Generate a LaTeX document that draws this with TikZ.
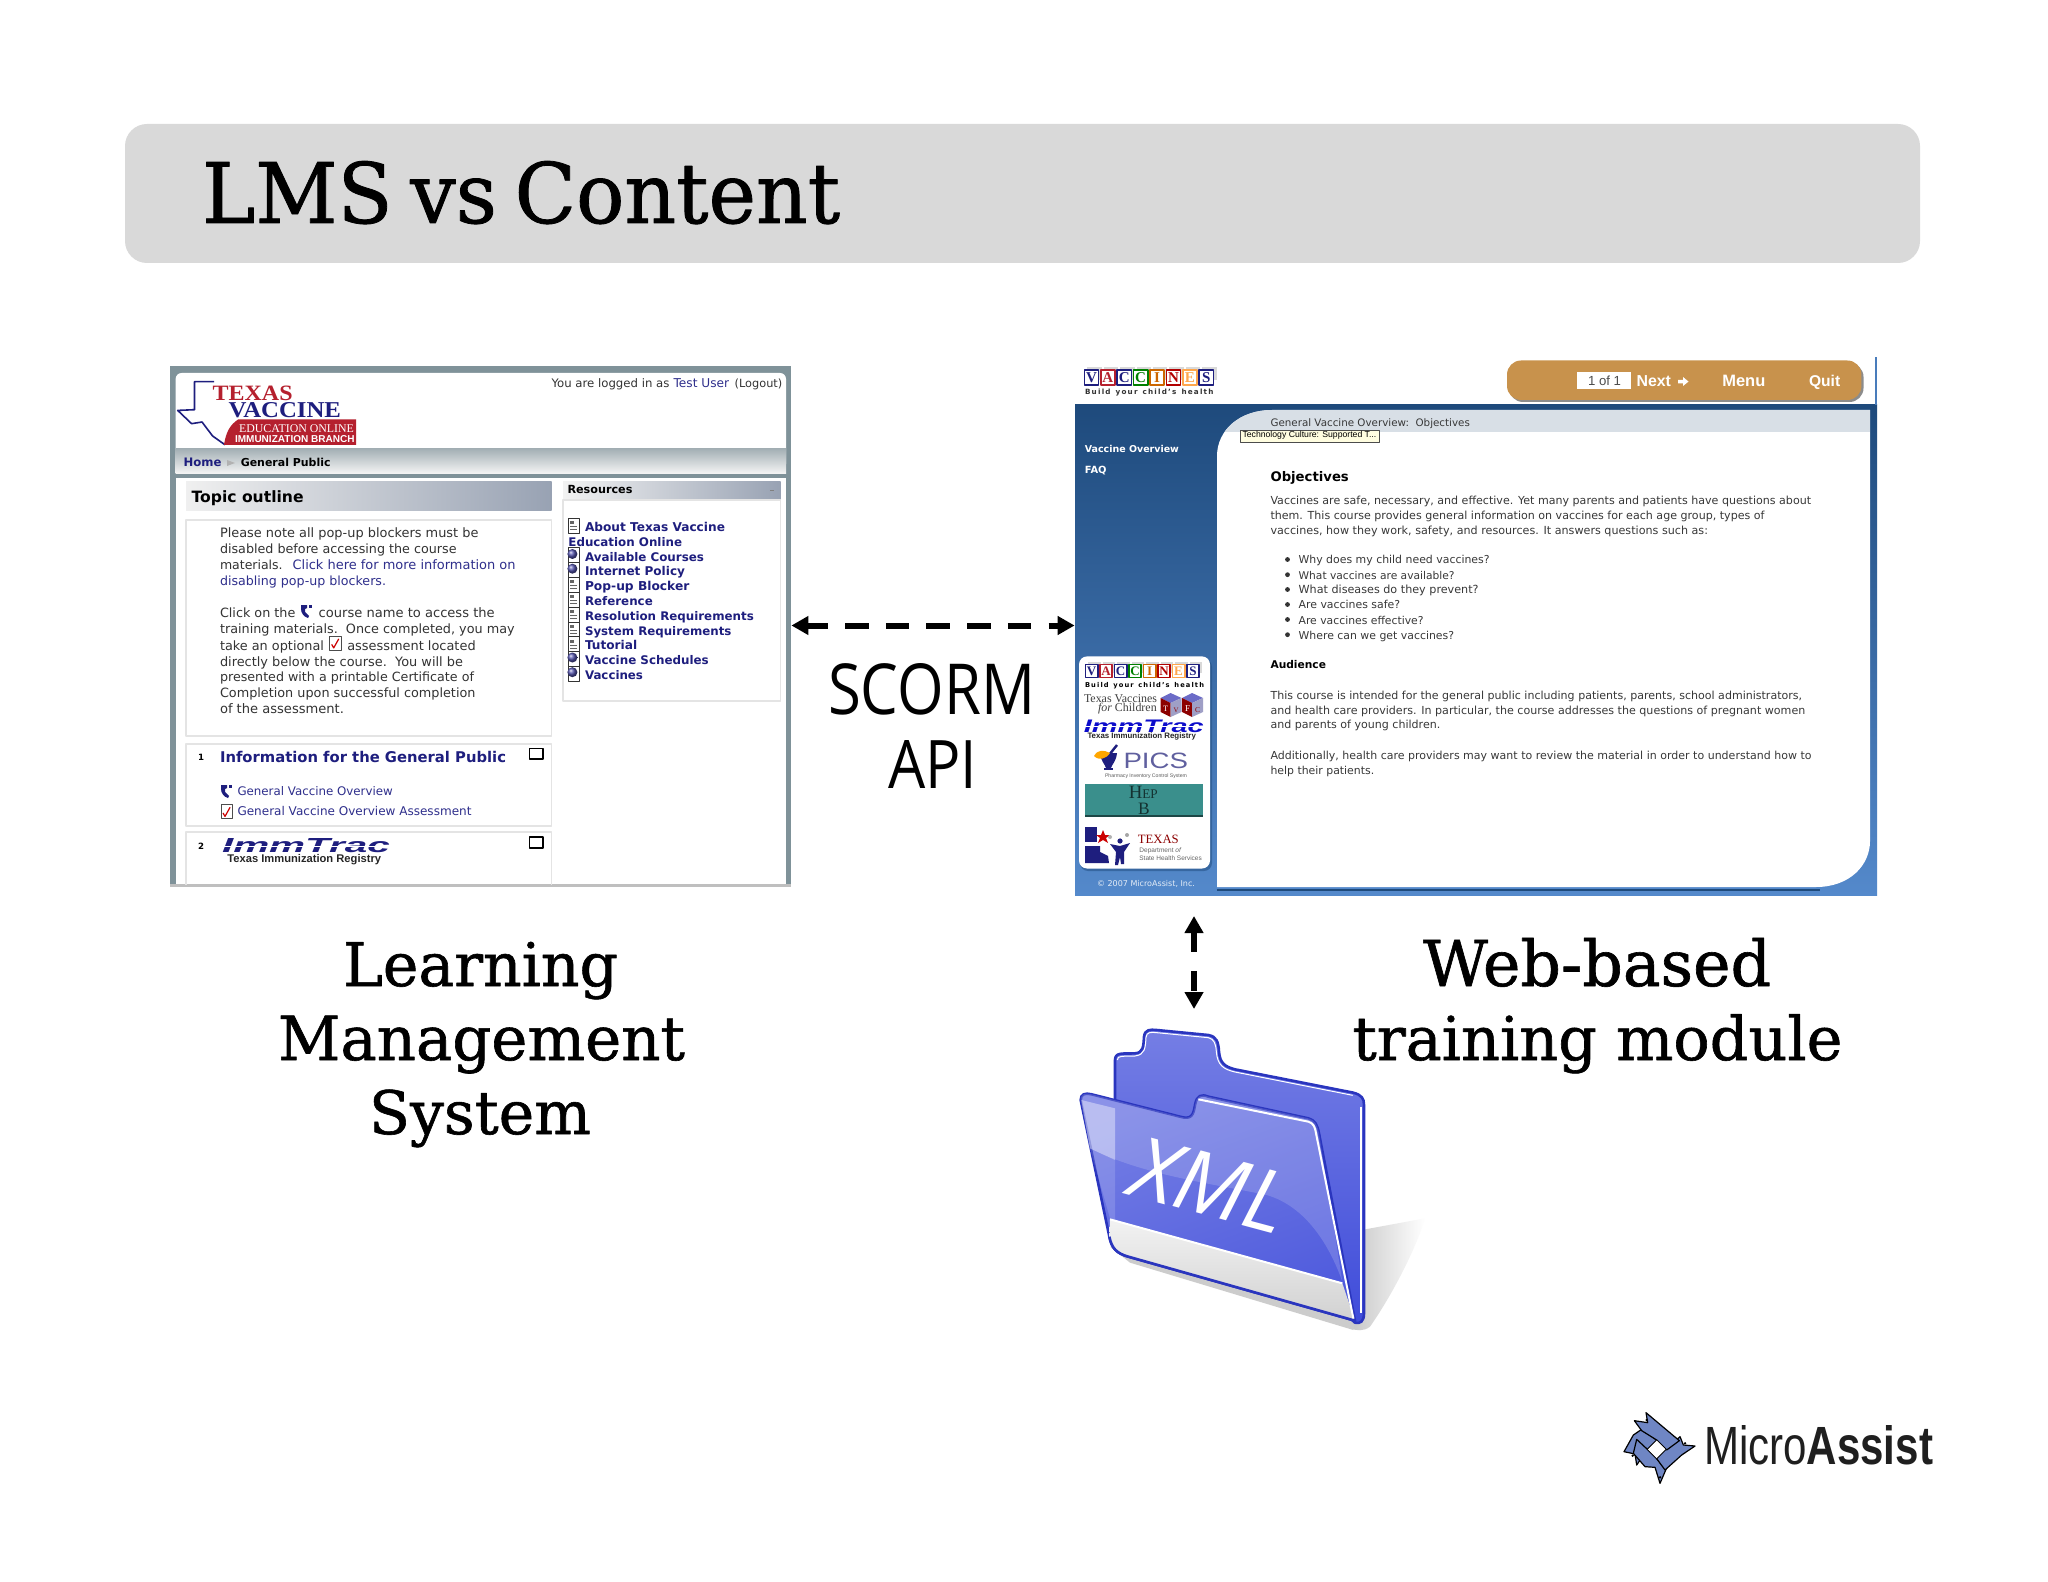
\documentclass[tikz,border=0pt]{standalone}
\usepackage{graphicx}
\usepackage{fontspec}
\usetikzlibrary{arrows.meta,shadings}
\setmainfont{DejaVu Sans}
\newfontfamily\slab[FakeBold=1.0]{DejaVu Serif}
\newfontfamily\opensans{Open Sans}
\newfontfamily\libsans{Liberation Sans}
\newfontfamily\libserif{Liberation Serif}
\newlength{\pxu}\setlength{\pxu}{0.5pt}
\definecolor{frameg}{HTML}{7F9299}
\definecolor{navyl}{HTML}{1E1E7E}
\definecolor{linkb}{HTML}{2F2F8C}
\definecolor{txtg}{HTML}{333333}
\definecolor{boxl}{HTML}{E4E4E4}
\definecolor{redl}{HTML}{B5202E}
\definecolor{webtop}{HTML}{1E4A7C}
\definecolor{webbot}{HTML}{5489CB}
\definecolor{bar}{HTML}{C8924C}
\definecolor{fblue}{HTML}{3F4CDA}
\definecolor{fline}{HTML}{2A35BE}
\definecolor{markb}{HTML}{6F86C4}
\definecolor{headr}{HTML}{98A2B3}
\definecolor{webband}{HTML}{D8DFE6}
\definecolor{hept}{HTML}{3A8F8C}
\definecolor{bandt}{HTML}{A4B0B5}
\newcounter{tlc}
% #1 x, #2 baseline y, #3 width in px, #4 node options, #5 text
\newcommand{\tl}[5]{\stepcounter{tlc}\node[lab,#4] (t\arabic{tlc}) at (#1,#2) {\resizebox{#3\pxu}{!}{#5}};}
% same, with a height in px too: #3 width, #4 height
\newcommand{\tlh}[6]{\stepcounter{tlc}\node[lab,#5] (t\arabic{tlc}) at (#1,#2) {\resizebox{#3\pxu}{#4\pxu}{#6}};}
\newcommand{\docicon}[2]{\filldraw[draw=black!80,fill=white,line width=.5pt] (#1,#2) rectangle ++(11,15);\fill[black!60] (#1+2,#2+3) rectangle ++(4,3);\draw[black!60,line width=.3pt] (#1+2,#2+8) -- ++(7,0) (#1+2,#2+11) -- ++(7,0);}
\newcommand{\globeicon}[2]{\filldraw[draw=black!80,fill=white,line width=.5pt] (#1,#2) rectangle ++(11,15);\shade[ball color=blue!35!gray] (#1+4,#2+6) circle (5);}
\newcommand{\checkicon}[3]{\filldraw[draw=black!70,fill=white,line width=.4pt] (#1,#2) rectangle ++(#3*0.8,#3);\draw[red!80!black,line width=.6pt] (#1+2,#2+#3*.6) -- (#1+4,#2+#3*.85) -- (#1+#3*.65,#2+#3*.2);}
\newcommand{\courseicon}[2]{\fill[navyl] (#1,#2) -- (#1+6,#2) -- (#1+6,#2+3) -- (#1+4,#2+4) -- (#1+4,#2+7) -- (#1+8,#2+11) -- (#1+7,#2+13) .. controls (#1+3,#2+12) and (#1,#2+8) .. (#1,#2+4) -- cycle;\fill[navyl] (#1+8,#2) rectangle ++(2.5,3);}
\newcommand{\blocks}[6]{% #1 prefix, #2 x, #3 y, #4 pitch, #5 height, #6 letter scale
  \foreach \i/\L/\c in {0/V/navyl,1/A/redl,2/C/navyl,3/C/green!50!black,4/I/orange!80!black,5/N/red!70!black,6/E/orange!70,7/S/navyl}{
    \fill[gray!30] (#2+\i*#4+3,#3-3) rectangle ++(#4-2,#5-2);
    \filldraw[draw=\c,fill=white,line width=.8pt] (#2+\i*#4,#3) rectangle ++(#4-2.2,#5);
    \node[inner sep=0,text=\c,font=\libserif\bfseries] (#1\i) at (#2+\i*#4+#4/2-1.1,#3+#5/2) {\scalebox{#6}{\L}};
  }}
\tikzset{
  lab/.style={anchor=base west,inner sep=0pt,outer sep=0pt},
  lmst/.style={text=txtg},
  lmsk/.style={text=linkb},
  lmsb/.style={text=navyl,font=\bfseries},
  webt/.style={text=black!78},
  webb/.style={text=black,font=\bfseries},
  heading/.style={text=black,font=\slab},
  big/.style={text=black,font=\opensans},
  boxb/.style={draw=boxl,fill=white,line width=.6pt},
  chk/.style={draw=black,line width=.6pt,fill=white},
  dblarrow/.style={line width=3pt,{Triangle[length=8.5pt,width=9pt]}-{Triangle[length=8.5pt,width=9pt]}},
}
\begin{document}
\begin{tikzpicture}[x=0.5pt,y=-0.5pt,line join=round]
\useasboundingbox (0,0) rectangle (2048,1582);
\fill[white] (0,0) rectangle (2048,1582);
% ---------- title ----------
\fill[black!15,rounded corners=11pt] (125,124) rectangle (1920,263);
\tlh{202}{223}{638}{62}{heading}{LMS\hspace{.22em}vs\hspace{.22em}Content}

% ---------- LMS screenshot ----------
\node[fill=frameg,minimum width=310.5pt,minimum height=259.5pt,inner sep=0] (lms) at (480.5,625.5) {};
\fill[white,rounded corners=3pt] (175.6,373) rectangle (786,470);
\shade[top color=bandt,bottom color=white!92!gray] (175.6,449) rectangle (786,473.5);
\fill[white] (175.6,478) rectangle (786,884);
\fill[black!25] (170,884) rectangle (791,887);
% logo
\draw[navyl,line width=.8pt] (214,381.6) -- (194.5,381.6) -- (194.5,409.7) -- (177.7,410.4) -- (191.6,423.7) -- (202,422) -- (212.6,436) -- (225,444.8);
\fill[redl] (238,419.5) -- (356,419.5) -- (356,444.8) -- (224,444.8) .. controls (226,432) and (230,425) .. (238,419.5) -- cycle;
\tlh{212.6}{400.5}{80}{14.5}{text=redl,font=\libserif\bfseries}{TEXAS}
\tlh{228.6}{417.4}{112.4}{15}{text=navyl,font=\libserif\bfseries}{VACCINE}
\tl{239}{432.5}{115}{text=white,font=\libserif}{EDUCATION ONLINE}
\tl{235}{443}{119.6}{text=white,font=\libsans\bfseries}{IMMUNIZATION BRANCH}
\tl{551.5}{387.6}{118}{lmst}{You are logged in as}
\tl{673.6}{387.6}{55.6}{lmsk}{Test User}
\tl{734.7}{387.6}{47.6}{lmst}{(Logout)}
\tl{183.6}{467}{37.9}{lmsb}{Home}
\fill[gray!60] (227,460) -- (235,463) -- (227,466) -- cycle;
\tl{240.8}{467}{89.7}{text=black,font=\bfseries}{General Public}
% topic outline
\shade[left color=black!6,right color=headr] (186,482) rectangle (551.5,511);
\tl{191.6}{503}{112}{text=black,font=\bfseries}{Topic outline}
\filldraw[boxb] (186,520) rectangle (551.5,736);
\filldraw[boxb] (186,744) rectangle (551.5,826);
\draw[boxl,line width=.6pt] (186,885) -- (186,832) -- (551.5,832) -- (551.5,885);
\tl{220}{538}{258.5}{lmst}{Please note all pop-up blockers must be}
\tl{220}{553.6}{236.6}{lmst}{disabled before accessing the course}
\tl{220}{569.4}{62.7}{lmst}{materials.}
\tl{292.6}{569.4}{223}{lmsk}{Click here for more information on}
\tl{220}{585}{166}{lmsk}{disabling pop-up blockers.}
\tl{220}{617.8}{75.4}{lmst}{Click on the}
\courseicon{301}{605}
\tl{318.7}{617.8}{176}{lmst}{course name to access the}
\tl{220}{633.6}{294.7}{lmst}{training materials.\ \ Once completed, you may}
\tl{220}{650}{104}{lmst}{take an optional}
\checkicon{329.7}{636}{14}
\tl{347.3}{650}{128.4}{lmst}{assessment located}
\tl{220}{666}{243}{lmst}{directly below the course.\ \ You will be}
\tl{220}{681.7}{254}{lmst}{presented with a printable Certificate of}
\tl{220}{697.5}{255.5}{lmst}{Completion upon successful completion}
\tl{220}{713}{124}{lmst}{of the assessment.}
\tl{198}{760.7}{6}{text=black,font=\bfseries}{1}
\tl{220}{762.4}{286}{lmsb}{Information for the General Public}
\filldraw[chk] (529.6,748.4) rectangle (543,759);
\courseicon{221}{785}
\tl{237.5}{795.8}{155.3}{lmsk}{General Vaccine Overview}
\checkicon{221}{804.5}{14}
\tl{237.5}{815.8}{234}{lmsk}{General Vaccine Overview Assessment}
\tl{198}{849}{6}{text=black,font=\bfseries}{2}
\tlh{222}{852.5}{168}{14}{text=navyl,font=\libsans\bfseries\itshape}{ImmTrac}
\draw[white,line width=.5pt] (215,846) -- (395,846);
\tl{227.4}{862.5}{153.7}{text=black!85,font=\libsans\bfseries}{Texas Immunization Registry}
\filldraw[chk] (529.6,837) rectangle (543,848);
% resources
\shade[left color=black!5,right color=headr] (563,482) rectangle (780.6,500);
\filldraw[boxb] (563,500) rectangle (780.6,701);
\tl{567.5}{494}{65}{text=black,font=\bfseries}{Resources}
\draw[gray,line width=.5pt] (770,490.4) -- (773.5,490.4);
\docicon{568.4}{518.5}
\globeicon{568.4}{548}
\globeicon{568.4}{562.7}
\docicon{568.4}{577.4}
\docicon{568.4}{592.2}
\docicon{568.4}{607.3}
\docicon{568.4}{622}
\docicon{568.4}{636.8}
\globeicon{568.4}{651.5}
\globeicon{568.4}{666.2}
\tl{585}{531.5}{140}{lmsb}{About Texas Vaccine}
\tl{568.4}{546.2}{113.7}{lmsb}{Education Online}
\tl{585}{561}{119}{lmsb}{Available Courses}
\tl{585}{575.7}{100}{lmsb}{Internet Policy}
\tl{585}{590.4}{104.4}{lmsb}{Pop-up Blocker}
\tl{585}{605.2}{67.8}{lmsb}{Reference}
\tl{585}{620.3}{168.8}{lmsb}{Resolution Requirements}
\tl{585}{635}{146.5}{lmsb}{System Requirements}
\tl{585}{649.8}{52.2}{lmsb}{Tutorial}
\tl{585}{664.5}{123.8}{lmsb}{Vaccine Schedules}
\tl{585}{679.2}{58}{lmsb}{Vaccines}

% ---------- web module ----------
\node[shade,top color=webtop,bottom color=webbot,minimum width=401pt,minimum height=245pt,inner sep=0] (web) at (1476,650) {};
\fill[webbot!80!webtop] (1874.5,357) rectangle (1877,405);
\blocks{ba}{1084.3}{370}{16.4}{15}{.75}
\tl{1085}{394.6}{128.5}{text=black!80,font=\bfseries}{B\,u\,i\,l\,d\ \ y\,o\,u\,r\ \ c\,h\,i\,l\,d\,'\,s\ \ h\,e\,a\,l\,t\,h}
% nav bar
\fill[black!45,rounded corners=7pt] (1509,363) rectangle (1863.5,402);
\fill[bar,rounded corners=7pt] (1507,360.5) rectangle (1861.4,400);
\fill[white] (1577.4,372) rectangle (1631,388.6);
\tl{1588}{386}{33}{text=black!70,font=\libsans}{1 of 1}
\tl{1636.6}{386.5}{34.4}{text=white,font=\libsans\bfseries}{Next}
\fill[white] (1678,380) -- (1683,380) -- (1683,377) -- (1688.5,381.6) -- (1683,386) -- (1683,383.5) -- (1678,383.5) -- cycle;
\tl{1722.3}{386.5}{43}{text=white,font=\libsans\bfseries}{Menu}
\tl{1809}{386.5}{31.2}{text=white,font=\libsans\bfseries}{Quit}
% content
\fill[webtop] (1217,889) rectangle (1820,891);
\fill[white] (1217,887) -- (1217,456) .. controls (1217,430) and (1240,410) .. (1272,410) -- (1870,410) -- (1870,841) .. controls (1870,865) and (1850,887) .. (1816,887) -- cycle;
\begin{scope}
\clip (1217,887) -- (1217,456) .. controls (1217,430) and (1240,410) .. (1272,410) -- (1870,410) -- (1870,841) -- (1870,887) -- cycle;
\fill[webband] (1217,410) rectangle (1870,432.5);
\end{scope}
\tl{1270.5}{426.5}{199.4}{webt}{General Vaccine Overview:\ \ Objectives}
\filldraw[draw=black!70,fill=yellow!12,line width=.4pt] (1240.4,430) rectangle (1379,442);
\tl{1242.5}{437.8}{133.8}{text=black,font=\libsans}{Technology Culture: Supported T...}
\tl{1270.5}{481}{78.3}{webb}{Objectives}
\tl{1270.5}{504.4}{540.6}{webt}{Vaccines are safe, necessary, and effective. Yet many parents and patients have questions about}
\tl{1270.5}{519.5}{494}{webt}{them. This course provides general information on vaccines for each age group, types of}
\tl{1270.5}{534.3}{437.5}{webt}{vaccines, how they work, safety, and resources. It answers questions such as:}
\foreach \yy in {559.5,574.7,589.5,604.5,619.5,634.7}{\fill[black!80] (1287.5,\yy) circle (2.4);}
\tl{1298.6}{564}{191}{webt}{Why does my child need vaccines?}
\tl{1298.6}{579.2}{156}{webt}{What vaccines are available?}
\tl{1298.6}{594}{180}{webt}{What diseases do they prevent?}
\tl{1298.6}{609}{101.6}{webt}{Are vaccines safe?}
\tl{1298.6}{624}{125}{webt}{Are vaccines effective?}
\tl{1298.6}{639.2}{155.5}{webt}{Where can we get vaccines?}
\tl{1270.5}{668.7}{55.5}{webb}{Audience}
\tl{1270.5}{699}{531.6}{webt}{This course is intended for the general public including patients, parents, school administrators,}
\tl{1270.5}{714}{534.8}{webt}{and health care providers. In particular, the course addresses the questions of pregnant women}
\tl{1270.5}{728.7}{169.8}{webt}{and parents of young children.}
\tl{1270.5}{759}{541}{webt}{Additionally, health care providers may want to review the material in order to understand how to}
\tl{1270.5}{774}{103.7}{webt}{help their patients.}
% side nav
\tl{1084.9}{452.8}{94}{text=white,font=\bfseries}{Vaccine Overview}
\tl{1084.9}{473.6}{21.7}{text=white,font=\bfseries}{FAQ}
% sponsor box
\fill[webtop,opacity=.5,rounded corners=4pt] (1080,659) rectangle (1212,871);
\fill[white,rounded corners=4pt] (1079,656.4) rectangle (1210,868.5);
\blocks{bb}{1085.4}{664.5}{14.5}{13}{.65}
\tl{1085}{687}{119}{text=black,font=\bfseries}{B\,u\,i\,l\,d\ \ y\,o\,u\,r\ \ c\,h\,i\,l\,d\,'\,s\ \ h\,e\,a\,l\,t\,h}
\tl{1084}{702}{73}{text=black!75,font=\libserif}{Texas Vaccines}
\tl{1098}{711}{58.7}{text=black!75,font=\libserif}{\textit{for} Children}
% TVFC cubes
\foreach \cx in {1160.5,1182}{
  \fill[blue!45!gray!80] (\cx,698) -- (\cx+10,693) -- (\cx+21,698) -- (\cx+10,703) -- cycle;
  \fill[red!55!black] (\cx,698) -- (\cx+10,703) -- (\cx+10,717) -- (\cx,712) -- cycle;
  \fill[blue!25!gray!60] (\cx+10,703) -- (\cx+21,698) -- (\cx+21,712) -- (\cx+10,717) -- cycle;
}
\tl{1163}{711}{5}{text=white,font=\libserif}{T}
\tl{1173.5}{712}{5}{text=red!55!black,font=\libserif}{V}
\tl{1185}{711}{5}{text=white,font=\libserif}{F}
\tl{1195}{712}{5}{text=red!55!black,font=\libserif}{C}
\tlh{1083.8}{732}{120}{12.5}{text=blue!60!navyl,font=\libsans\bfseries\itshape}{ImmTrac}
\draw[white,line width=.4pt] (1080,726.5) -- (1208,726.5);
\tl{1087.5}{738}{108.4}{text=black!85,font=\libsans\bfseries}{Texas Immunization Registry}
% PICS
\tlh{1123.5}{768.4}{64.5}{15.5}{text=gray!75!blue,font=\libsans}{PICS}
\fill[navyl] (1100,753) -- (1117,753) .. controls (1116,762) and (1112,764) .. (1111,768) -- (1106,768) .. controls (1105,764) and (1101,762) .. (1100,753) -- cycle;
\fill[navyl] (1104,768) rectangle (1113,770);
\draw[navyl,line width=1.2pt] (1109,755) -- (1117,745);
\fill[orange!70!yellow] (1094,756) .. controls (1098,749) and (1104,750) .. (1110,753) .. controls (1106,759) and (1099,761) .. (1094,756) -- cycle;
\tl{1105}{777}{82}{text=black!65,font=\libsans}{Pharmacy Inventory Control System}
% HepB
\fill[hept] (1085.4,783.5) rectangle (1202.8,815);
\fill[hept!50!black] (1085.4,815) rectangle (1202.8,816.5);
\tl{1128.8}{798}{29}{text=hept!35!black,font=\libserif}{H{\scriptsize EP}}
\tl{1138}{814}{11.6}{text=hept!35!black,font=\libserif}{B}
% Texas DSHS logo
\fill[navyl] (1085,827) rectangle (1097,842);
\fill[navyl] (1085,846) -- (1100,846) -- (1100,852) -- (1108,856) -- (1109,863) -- (1085,863) -- cycle;
\fill[red!80!black] (1103,830) -- (1105,835) -- (1110,835) -- (1106,838) -- (1108,843) -- (1103,840) -- (1098,843) -- (1100,838) -- (1096,835) -- (1101,835) -- cycle;
\fill[navyl] (1120,841) circle (2.6);
\fill[navyl] (1110,844) -- (1120,846) -- (1130,843) -- (1124,852) -- (1124,864) -- (1121,864) -- (1120,857) -- (1118,865) -- (1115,865) -- (1116,852) -- cycle;
\fill[gray!70] (1127,835) circle (2);
\fill[gray!60] (1110,837) circle (2);
\tl{1137.8}{843}{41}{text=red!55!black,font=\libserif}{TEXAS}
\tl{1139.4}{852}{42}{text=black!60,font=\libsans}{Department \textit{of}}
\tl{1139.4}{860}{62.4}{text=black!60,font=\libsans}{State Health Services}
\tl{1097}{886}{98}{text=white!85!webbot}{\textcopyright\ 2007 MicroAssist, Inc.}

% ---------- connectors ----------
\coordinate (vtop) at (1194,916);
\coordinate (vbot) at (1194,1009);
\draw[dblarrow,dash pattern=on 11.75pt off 8.6pt,dash phase=1.5pt] (lms.east) -- (lms.east -| web.west);
\draw[dblarrow,dash pattern=on 10pt off 9.5pt] (vtop) -- (vbot);

% ---------- labels ----------
\tlh{828}{714}{207}{51}{big}{SCORM}
\tlh{888}{788}{89}{48}{big}{API}
\tl{343}{986}{275}{heading}{Learning}
\tl{278}{1060}{407}{heading}{Management}
\tl{369}{1134}{222}{heading}{System}
\tl{1423}{986}{348}{heading}{Web-based}
\tl{1352.5}{1060}{490}{heading}{training module}

% ---------- folder ----------
\begin{scope}[shift={(1060,900)},scale=.33333]
\shade[left color=black!22,right color=white] (905,990) -- (1095,955) .. controls (1070,1040) and (1000,1180) .. (930,1280) .. controls (910,1295) and (890,1292) .. (870,1285) -- cycle;
\fill[black!20] (150,1040) -- (210,1088) -- (880,1290) -- (890,1250) -- cycle;
\shade[top color=fblue!72!white,bottom color=fblue,draw=fline,line width=1.3pt] (165,620) -- (165,480) .. controls (165,455) and (190,462) .. (225,460) .. controls (250,458) and (250,440) .. (252,410) .. controls (255,388) and (270,388) .. (290,390) -- (445,405) .. controls (470,410) and (475,425) .. (477,455) .. controls (480,490) and (495,500) .. (525,508) -- (880,578) .. controls (905,585) and (912,595) .. (912,615) -- (912,1240) .. controls (912,1265) and (900,1272) .. (885,1268) -- cycle;
\draw[white,line width=.5pt] (172,480) .. controls (172,465) and (190,470) .. (225,468) .. controls (255,464) and (256,445) .. (258,412) .. controls (260,396) and (272,396) .. (290,398) -- (445,413) .. controls (462,417) and (467,430) .. (469,455) .. controls (472,495) and (490,508) .. (525,516) -- (878,586);
\draw[white,line width=1pt] (902,620) -- (902,1240);
\shade[left color=fblue!72!white,right color=fblue!92!white,shading angle=20,draw=fline,line width=1.3pt] (62,600) .. controls (62,582) and (75,578) .. (95,583) -- (360,650) .. controls (395,660) and (400,645) .. (405,615) .. controls (410,585) and (425,582) .. (445,590) -- (745,655) .. controls (765,660) and (772,675) .. (777,700) -- (885,1262) -- (205,1070) .. controls (170,1060) and (155,1045) .. (148,1010) -- cycle;
% glass highlight
\fill[white,opacity=.16] (62,600) .. controls (62,582) and (75,578) .. (95,583) -- (360,650) .. controls (395,660) and (400,645) .. (405,615) .. controls (410,585) and (425,582) .. (445,590) -- (745,655) .. controls (765,660) and (772,675) .. (777,700) -- (847,1145) .. controls (810,1040) and (740,920) .. (620,885) .. controls (450,850) and (250,825) .. (90,745) -- cycle;
\fill[white,opacity=.4] (64,600) -- (165,625) -- (165,780) -- (90,745) -- cycle;
\fill[white,opacity=.15] (90,745) -- (165,780) -- (165,960) -- (150,955) -- cycle;
% white band
\shade[top color=white!95!black,bottom color=black!18] (150,958) -- (847,1150) -- (885,1262) -- (205,1070) .. controls (170,1060) and (155,1045) .. (148,1010) -- cycle;
\draw[fline,line width=1.3pt] (885,1262) -- (205,1070) .. controls (170,1060) and (155,1045) .. (148,1010);
\draw[white,line width=1pt] (150,958) -- (847,1150);
\draw[white,line width=1pt] (415,598) -- (745,665) .. controls (760,670) and (765,680) .. (768,700) -- (880,1255);
\node[lab,rotate=-15,text=white,font=\opensans\itshape] (xmllab) at (198,882) {\resizebox{157\pxu}{!}{XML}};
\end{scope}

% ---------- MicroAssist ----------
\tlh{1704}{1464}{229}{39}{text=black!88,font=\libsans}{Micro\textbf{Assist}}
\begin{scope}[shift={(1600,1390)},scale=.33333,line width=.6pt]
\filldraw[fill=markb,draw=black] (72,185) -- (105,192) -- (110,225) -- (142,178) -- (170,150) -- (125,118) -- (100,135) -- cycle;
\filldraw[fill=markb,draw=black] (180,280) -- (198,238) -- (170,206) -- (142,178) -- (110,148) -- (100,190) -- (135,230) -- (165,232) -- cycle;
\filldraw[fill=markb,draw=black] (285,168) -- (250,165) -- (240,140) -- (198,178) -- (170,206) -- (195,240) -- (245,195) -- cycle;
\filldraw[fill=markb,draw=black] (103,92) -- (143,98) -- (138,68) -- (238,152) -- (200,180) -- (170,150) -- (125,122) -- cycle;
\fill[white] (170,152) -- (196,178) -- (170,204) -- (144,178) -- cycle;
\fill[black] (140,90) circle (4) (255,160) circle (4) (180,262) circle (4) (98,197) circle (4);
\end{scope}
\end{tikzpicture}
\end{document}
